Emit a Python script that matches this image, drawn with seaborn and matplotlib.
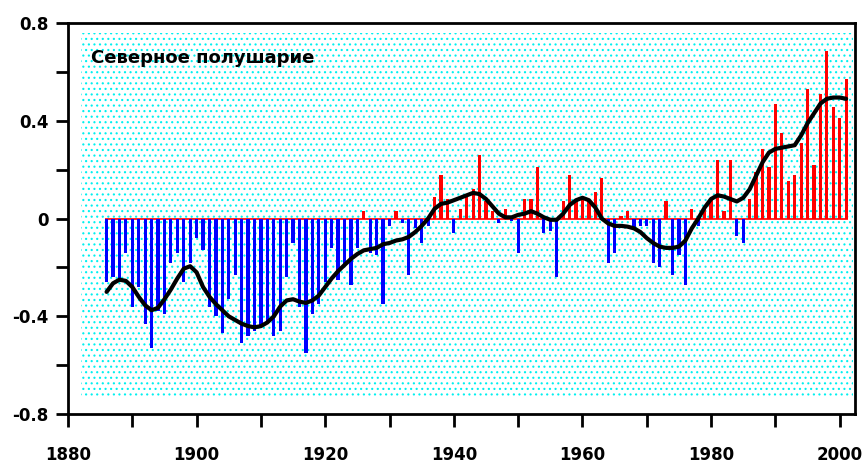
import numpy as np
import pandas as pd
import seaborn as sns
from matplotlib import pyplot as plt
from matplotlib.patches import Rectangle

years = list(range(1886, 2002))

# yearly anomalies (bars)
anomaly = [
    -0.26, -0.24, -0.25, -0.14, -0.36, -0.28, -0.43, -0.53, -0.38, -0.39,   # 1886-1895
    -0.18, -0.14, -0.26, -0.18, -0.08, -0.13, -0.36, -0.40, -0.47, -0.33,   # 1896-1905
    -0.23, -0.51, -0.48, -0.46, -0.44, -0.42, -0.48, -0.46, -0.24, -0.10,   # 1906-1915
    -0.36, -0.55, -0.39, -0.35, -0.26, -0.12, -0.25, -0.19, -0.27, -0.12,   # 1916-1925
    0.03, -0.14, -0.15, -0.35, -0.03, 0.03, -0.02, -0.23, -0.04, -0.10,     # 1926-1935
    -0.03, 0.09, 0.18, 0.08, -0.06, 0.04, 0.09, 0.12, 0.26, 0.07,           # 1936-1945
    0.03, -0.02, 0.04, -0.01, -0.14, 0.08, 0.08, 0.21, -0.06, -0.05,        # 1946-1955
    -0.24, 0.07, 0.18, 0.08, 0.09, 0.07, 0.11, 0.165, -0.18, -0.14,         # 1956-1965
    0.01, 0.03, -0.04, -0.03, -0.03, -0.18, -0.20, 0.07, -0.23, -0.15,      # 1966-1975
    -0.27, 0.04, -0.03, 0.04, 0.08, 0.24, 0.03, 0.24, -0.07, -0.10,         # 1976-1985
    0.08, 0.19, 0.285, 0.21, 0.47, 0.35, 0.155, 0.18, 0.31, 0.53,           # 1986-1995
    0.22, 0.51, 0.685, 0.455, 0.41, 0.57,                                   # 1996-2001
]

# smoothed curve
smoothed = [
    -0.30, -0.265, -0.25, -0.255, -0.28, -0.32, -0.355, -0.375, -0.365, -0.33,
    -0.29, -0.245, -0.205, -0.195, -0.22, -0.28, -0.32, -0.35, -0.375, -0.40,
    -0.415, -0.43, -0.44, -0.445, -0.44, -0.425, -0.40, -0.36, -0.335, -0.33,
    -0.34, -0.345, -0.335, -0.315, -0.28, -0.245, -0.215, -0.19, -0.165, -0.145,
    -0.13, -0.125, -0.12, -0.105, -0.10, -0.09, -0.085, -0.075, -0.055, -0.03,
    0.0, 0.04, 0.06, 0.065, 0.075, 0.085, 0.095, 0.105, 0.10, 0.08,
    0.05, 0.02, 0.005, 0.005, 0.015, 0.02, 0.03, 0.02, 0.005, -0.005,
    -0.005, 0.02, 0.055, 0.075, 0.085, 0.075, 0.045, 0.0, -0.02, -0.03,
    -0.03, -0.033, -0.04, -0.055, -0.08, -0.10, -0.115, -0.12, -0.12, -0.115,
    -0.09, -0.04, 0.0, 0.045, 0.08, 0.095, 0.09, 0.08, 0.07, 0.085,
    0.12, 0.175, 0.23, 0.27, 0.285, 0.29, 0.295, 0.30, 0.34, 0.39,
    0.43, 0.47, 0.49, 0.495, 0.495, 0.49,
]

title = "Северное полушарие"
x_ticks = list(range(1880, 2001, 10))
x_labels = ["1880", "", "1900", "", "1920", "", "1940", "", "1960", "", "1980", "", "2000"]
y_ticks = [-0.8, -0.6, -0.4, -0.2, 0, 0.2, 0.4, 0.6, 0.8]
y_labels = ["-0.8", "", "-0.4", "", "0", "", "0.4", "", "0.8"]

df = pd.DataFrame({"year": years, "anomaly": anomaly, "smoothed": smoothed})
df["sign"] = np.where(df["anomaly"] >= 0, "pos", "neg")

sns.set_theme(style="ticks")
plt.rcParams["font.family"] = ["DejaVu Sans"]
plt.rcParams["hatch.linewidth"] = 0.8

fig = plt.figure(figsize=(8.65, 4.69), dpi=100)
ax = fig.add_axes([0.0786, 0.117, 0.91, 0.834])
ax.set_facecolor("white")

# dotted cyan backdrop
ax.add_patch(Rectangle((1882, -0.735), 120, 1.495, facecolor="white",
                       edgecolor="#00f0f0", hatch="...", lw=0, zorder=0))

ax.hlines(0, years[0] - 0.3, years[-1] + 0.3, color="red", lw=1.2, zorder=1)

sns.barplot(data=df, x="year", y="anomaly", hue="sign",
            palette={"pos": "#ff0000", "neg": "#0000ff"}, native_scale=True,
            width=0.5, dodge=False, errorbar=None, legend=False,
            saturation=1, linewidth=0, ax=ax, zorder=2)
sns.lineplot(data=df, x="year", y="smoothed", color="black", lw=3, ax=ax, zorder=3)

ax.set_xlim(1880, 2002.4)
ax.set_ylim(-0.8, 0.8)
ax.set_xticks(x_ticks)
ax.set_xticklabels(x_labels, fontsize=12, fontweight="bold", color="black")
ax.set_yticks(y_ticks)
ax.set_yticklabels(y_labels, fontsize=12, fontweight="bold", color="black")
ax.tick_params(axis="both", direction="out", length=9, width=2, color="black")
ax.tick_params(axis="x", pad=14)
ax.tick_params(axis="y", pad=5)
for sp in ax.spines.values():
    sp.set_visible(True)
    sp.set_linewidth(2)
    sp.set_color("black")
ax.set_xlabel("")
ax.set_ylabel("")

ax.text(1883.6, 0.655, title, fontsize=13, fontweight="bold", color="black",
        ha="left", va="center")

plt.savefig("out.png", dpi=100)
